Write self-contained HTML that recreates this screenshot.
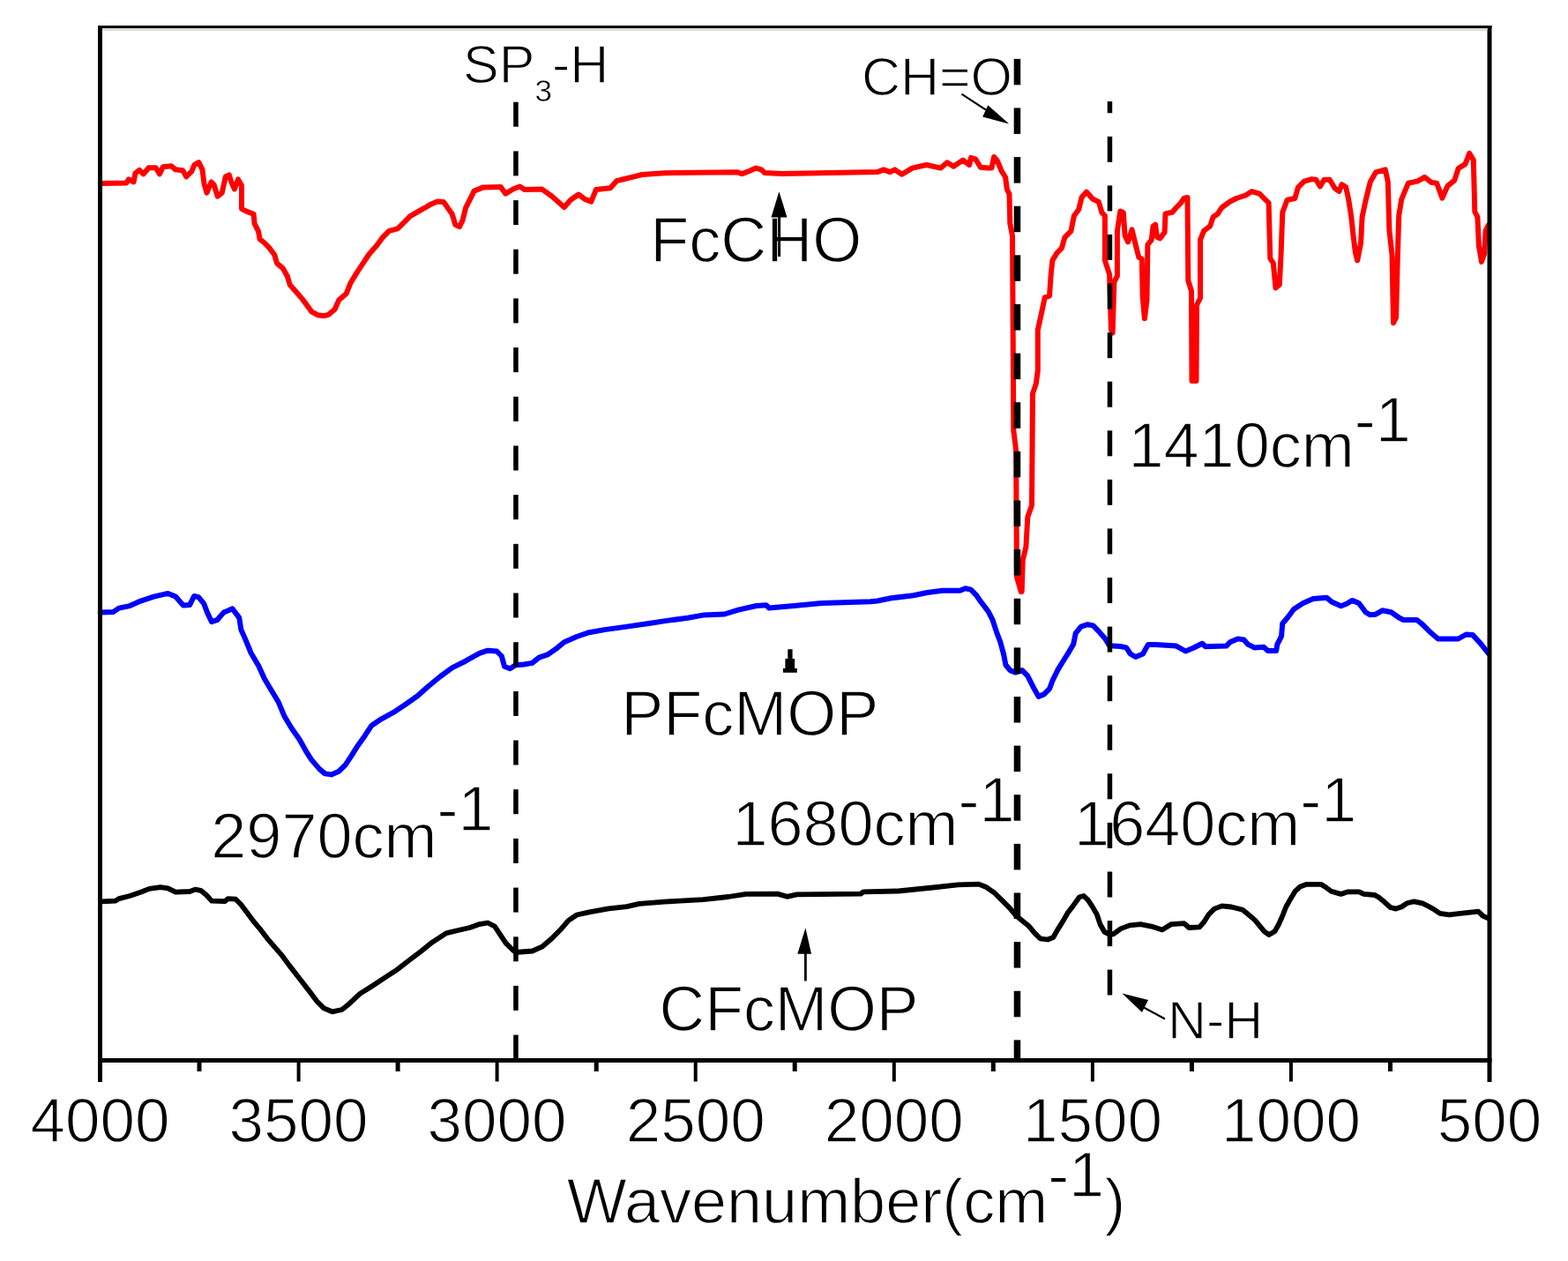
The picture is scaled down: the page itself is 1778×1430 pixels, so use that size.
<!DOCTYPE html>
<html><head><meta charset="utf-8"><title>FTIR spectra</title>
<style>html,body{margin:0;padding:0;background:#fff;overflow:hidden}svg{display:block}text{fill:#000;stroke:#fff;stroke-width:1.3px;paint-order:normal}</style>
</head><body>
<svg width="1778" height="1430" viewBox="0 0 1778 1430" font-family="'Liberation Sans', Arial, Helvetica, sans-serif">
<rect width="1778" height="1430" fill="#fff"/>
<!-- curves -->
<polyline points="113.8,208.0 143.4,207.5 145.9,203.4 151.5,206.4 153.5,196.3 158.1,192.8 162.6,197.3 168.7,190.2 176.8,190.2 180.9,197.3 184.9,189.2 194.0,188.2 199.1,192.3 207.2,193.3 211.2,200.4 217.3,194.3 220.3,187.2 225.4,184.2 229.5,192.3 231.5,208.5 234.5,218.6 239.6,206.4 242.6,209.5 246.7,222.6 251.7,218.6 255.8,200.4 259.8,198.3 261.9,205.4 265.9,214.5 270.0,203.4 274.0,210.5 274.0,236.8 280.0,239.9 287.6,242.7 288.6,253.5 293.0,262.3 294.5,271.1 299.4,275.0 305.2,280.9 311.1,288.7 314.0,298.5 320.9,304.4 325.8,313.2 328.7,323.0 335.6,330.8 342.4,338.6 348.3,346.4 353.2,353.3 360.0,357.2 367.8,358.2 372.4,356.9 379.5,351.0 384.3,340.3 392.6,333.1 397.3,321.3 404.5,309.4 411.6,298.7 418.7,288.0 427.1,278.5 434.2,268.9 441.3,261.8 450.8,259.4 458.0,252.3 465.1,245.2 473.4,240.4 481.7,235.7 487.7,232.1 496.0,228.5 503.1,229.1 508.5,236.9 512.7,242.8 516.2,254.7 521.0,257.1 524.5,249.9 528.1,235.7 532.9,226.2 537.6,216.6 548.0,212.4 567.8,212.0 573.2,219.6 582.2,214.2 589.4,211.5 594.8,215.1 614.6,214.6 625.4,222.3 639.8,234.9 647.0,226.8 656.0,220.5 663.2,225.9 670.4,228.6 675.8,215.1 692.0,213.3 699.2,205.2 710.0,202.5 720.8,199.8 728.0,198.0 753.2,196.2 836.0,195.3 841.4,197.1 848.6,194.4 857.1,190.6 863.4,192.4 867.0,196.0 886.8,196.9 994.8,195.1 1002.0,192.4 1009.2,195.1 1014.6,192.4 1022.7,197.8 1034.4,190.6 1050.6,187.0 1066.8,190.6 1074.0,184.3 1081.2,188.8 1092.0,181.6 1099.2,187.0 1101.0,178.9 1106.4,180.7 1111.8,189.7 1120.0,190.5 1124.4,190.6 1127.1,178.0 1130.7,182.0 1135.7,194.0 1140.1,201.0 1141.9,215.0 1144.5,220.2 1145.3,253.4 1148.0,267.4 1149.0,430.0 1149.3,488.0 1152.1,510.6 1153.0,654.1 1157.8,671.1 1158.7,671.0 1159.7,635.3 1163.4,620.2 1165.3,586.2 1170.0,573.0 1171.0,446.4 1174.8,435.1 1176.8,420.0 1176.8,374.0 1180.3,358.3 1184.7,337.3 1190.0,335.6 1191.7,311.1 1193.4,295.4 1198.7,286.6 1203.9,281.4 1207.4,269.2 1214.4,262.2 1217.9,244.7 1223.1,237.7 1226.6,223.7 1231.9,217.6 1238.9,225.5 1245.9,229.0 1249.4,241.2 1252.9,244.7 1252.9,295.4 1258.1,311.1 1259.9,374.0 1261.6,377.6 1263.4,319.9 1266.9,312.9 1266.9,262.2 1270.3,239.4 1273.8,241.2 1275.6,267.4 1279.1,274.4 1283.5,260.4 1287.0,274.4 1291.3,291.9 1294.8,293.6 1295.7,337.3 1297.9,361.3 1300.5,340.3 1301.4,277.4 1305.7,272.2 1307.5,256.4 1310.1,254.7 1311.9,268.7 1315.3,270.4 1320.6,263.4 1321.5,242.4 1329.3,240.7 1333.7,235.5 1339.0,230.2 1342.4,225.0 1346.5,224.0 1347.3,318.0 1351.0,330.0 1351.5,432.0 1356.5,432.0 1357.0,346.0 1361.0,338.0 1361.0,272.0 1365.2,261.7 1372.2,256.4 1375.7,245.9 1380.9,242.4 1385.3,235.5 1394.9,228.5 1401.9,225.0 1412.4,221.5 1419.4,217.1 1428.1,219.7 1433.4,225.0 1438.6,230.2 1440.3,293.1 1443.8,298.4 1446.5,326.4 1450.8,322.9 1452.6,287.9 1454.3,240.7 1459.6,226.7 1468.3,225.0 1471.8,212.7 1478.8,205.7 1487.6,203.1 1492.3,203.8 1496.9,211.5 1501.5,203.8 1507.7,203.8 1513.8,213.8 1518.5,216.9 1521.5,209.2 1526.2,212.3 1529.2,226.2 1532.3,246.2 1534.6,267.7 1536.9,286.2 1539.2,295.4 1543.1,275.4 1544.6,246.2 1548.5,227.7 1553.8,206.2 1560.0,195.4 1570.8,192.3 1573.8,206.2 1575.4,261.5 1578.5,289.2 1580.0,366.2 1583.1,360.0 1584.6,298.5 1586.2,244.6 1589.2,226.2 1596.9,207.7 1607.7,205.4 1615.4,200.8 1623.1,206.9 1629.2,207.7 1635.4,224.6 1641.5,210.8 1649.2,204.6 1653.8,190.8 1661.5,186.2 1666.2,173.8 1670.8,181.5 1672.3,240.0 1675.4,246.2 1676.9,278.5 1680.0,296.9 1683.1,287.7 1684.6,261.5 1687.7,255.4" fill="none" stroke="#ff0000" stroke-width="6" stroke-linejoin="round" stroke-linecap="round"/>
<polyline points="113.7,694.6 128.6,693.9 134.8,689.6 147.1,687.1 159.5,681.6 174.4,676.6 190.4,672.9 199.1,676.6 207.8,686.5 215.2,685.9 220.1,676.0 225.1,677.2 231.3,684.7 235.0,694.6 240.0,705.1 246.1,703.2 253.6,694.6 263.5,690.2 271.3,700.6 273.3,713.9 278.6,725.9 284.6,740.5 293.2,755.1 299.9,769.7 307.8,783.0 315.8,796.3 322.5,812.3 330.4,825.5 339.7,838.8 346.4,850.8 353.0,861.4 362.3,872.1 368.5,877.4 375.6,878.4 384.3,874.7 391.7,867.3 399.1,856.1 405.3,846.2 414.0,833.9 421.4,822.7 432.5,815.3 446.1,807.9 461.0,798.0 473.4,789.3 485.7,778.2 499.4,767.0 513.0,757.1 527.8,749.7 543.6,740.9 553.1,737.7 563.3,738.5 568.8,744.0 572.0,755.8 578.3,758.2 584.6,754.3 594.0,753.5 603.5,751.9 611.3,745.6 620.8,742.4 630.2,736.1 639.7,728.3 653.9,722.0 668.0,717.2 685.4,714.1 709.0,710.9 735.7,707.0 756.2,703.9 779.8,700.7 797.2,697.6 821.5,696.5 837.2,691.7 857.7,687.0 868.7,686.2 871.9,689.4 900.2,687.0 931.7,683.9 986.9,682.3 994.7,681.5 1010.5,678.3 1035.7,675.2 1051.4,672.0 1068.7,669.7 1088.5,669.8 1094.7,667.3 1100.8,668.6 1107.0,674.8 1112.0,682.2 1120.6,693.3 1125.6,703.2 1130.5,718.1 1134.3,728.0 1138.0,741.6 1140.4,754.0 1145.4,760.1 1151.6,762.6 1159.0,760.1 1165.2,766.3 1171.4,778.7 1177.6,789.9 1183.8,787.4 1190.0,781.2 1193.7,771.3 1199.9,758.9 1206.0,749.0 1212.2,739.1 1217.2,730.4 1219.7,718.1 1225.8,710.6 1233.3,708.2 1239.5,709.4 1245.6,715.6 1253.1,724.3 1258.0,732.3 1270.4,732.9 1277.1,734.4 1281.8,741.5 1287.7,745.0 1296.0,741.5 1301.9,730.9 1310.2,730.9 1333.8,732.6 1344.4,738.5 1352.7,735.0 1363.3,729.7 1366.8,733.2 1390.5,732.6 1395.2,727.9 1403.5,724.4 1410.5,725.5 1415.3,730.9 1422.4,734.4 1433.0,733.8 1437.7,738.0 1447.2,738.0 1448.3,730.9 1453.1,721.4 1454.2,707.2 1460.1,700.2 1467.2,690.7 1477.6,684.0 1489.0,679.0 1504.2,677.7 1510.5,682.8 1520.6,687.2 1527.0,684.7 1533.3,680.9 1540.9,684.0 1548.5,694.2 1553.5,697.3 1559.9,696.7 1567.4,692.3 1577.6,694.2 1586.4,700.5 1591.5,703.0 1606.7,703.0 1613.0,708.1 1621.9,717.0 1630.7,724.5 1653.5,724.5 1662.4,719.5 1670.0,720.1 1678.8,729.6 1687.7,741.0" fill="none" stroke="#0000ff" stroke-width="6" stroke-linejoin="round" stroke-linecap="round"/>
<polyline points="115.0,1022.4 131.0,1021.6 134.8,1019.1 147.1,1016.0 159.5,1011.7 169.4,1007.9 181.8,1006.1 190.4,1007.3 199.1,1011.7 215.2,1011.0 221.4,1008.6 227.6,1009.8 233.8,1014.8 240.0,1021.6 254.8,1022.2 258.5,1019.1 267.2,1019.7 273.4,1025.9 280.8,1035.8 288.2,1045.7 295.6,1054.4 303.1,1064.3 310.5,1072.9 319.2,1082.8 327.9,1094.6 338.9,1108.7 349.9,1122.9 359.4,1135.5 367.2,1143.4 376.7,1147.3 387.7,1145.0 395.6,1138.7 408.2,1126.9 420.8,1119.0 436.5,1108.7 450.7,1099.3 464.9,1088.3 477.5,1078.8 490.1,1068.6 505.8,1058.3 518.4,1055.2 532.6,1052.0 543.6,1048.1 553.1,1046.5 561.0,1050.5 567.2,1059.9 573.5,1069.4 581.4,1077.2 584.7,1080.0 603.6,1078.5 614.6,1073.7 625.7,1064.3 635.1,1054.8 644.6,1043.8 654.0,1037.5 668.2,1034.4 690.2,1030.4 710.7,1028.1 724.9,1024.9 753.2,1022.6 797.3,1020.2 825.7,1017.0 846.1,1013.9 881.5,1013.6 892.5,1016.8 903.5,1014.4 976.0,1013.6 979.1,1011.3 1018.5,1010.5 1057.9,1006.5 1086.2,1003.4 1109.8,1002.6 1117.7,1005.7 1127.4,1012.3 1136.1,1020.9 1144.8,1029.6 1152.2,1038.3 1159.6,1044.5 1167.0,1050.6 1173.2,1058.1 1179.4,1064.3 1188.1,1065.5 1194.3,1063.0 1199.2,1054.4 1205.4,1044.5 1210.3,1035.8 1217.8,1025.9 1224.0,1017.2 1228.9,1016.0 1233.9,1020.9 1238.8,1028.4 1243.8,1037.0 1247.5,1048.2 1252.4,1056.8 1257.4,1059.3 1262.3,1059.3 1271.0,1053.1 1280.9,1049.4 1293.3,1048.2 1305.6,1050.6 1318.0,1054.4 1327.9,1048.2 1342.8,1047.2 1348.2,1052.0 1359.9,1051.4 1365.3,1045.6 1370.6,1037.0 1377.0,1030.6 1385.6,1027.4 1396.3,1028.5 1409.1,1031.7 1415.5,1037.0 1423.0,1043.4 1428.3,1049.8 1433.7,1056.3 1439.0,1060.0 1445.4,1056.3 1449.7,1048.8 1454.0,1039.2 1458.2,1028.5 1463.6,1018.9 1468.9,1010.3 1474.3,1005.5 1481.7,1002.8 1497.8,1002.8 1503.1,1006.0 1509.5,1010.8 1520.4,1013.9 1528.7,1011.3 1541.2,1011.3 1546.4,1013.9 1558.9,1015.0 1564.1,1018.1 1570.3,1023.3 1576.6,1029.0 1582.8,1030.6 1589.1,1028.5 1595.3,1024.3 1603.6,1022.3 1613.0,1024.3 1619.3,1027.5 1626.5,1031.6 1632.8,1035.8 1643.2,1037.3 1655.7,1035.8 1676.5,1033.7 1681.7,1038.9 1686.9,1041.0" fill="none" stroke="#000" stroke-width="5.8" stroke-linejoin="round" stroke-linecap="round"/>
<!-- frame -->
<rect x="113.5" y="30.5" width="1575.5" height="172" fill="none" stroke="none"/>
<line x1="113.5" y1="29" x2="113.5" y2="1227" stroke="#000" stroke-width="5"/>
<line x1="1689" y1="29" x2="1689" y2="1227" stroke="#000" stroke-width="5"/>
<line x1="111" y1="30.5" x2="1691.5" y2="30.5" stroke="#000" stroke-width="3"/>
<line x1="116" y1="33.5" x2="1686.5" y2="33.5" stroke="#dcdcd4" stroke-width="3"/>
<line x1="111" y1="1202.5" x2="1691.5" y2="1202.5" stroke="#000" stroke-width="5"/>
<line x1="113.5" y1="1202" x2="113.5" y2="1226.5" stroke="#000" stroke-width="4"/>
<line x1="338.6" y1="1202" x2="338.6" y2="1226.5" stroke="#000" stroke-width="4"/>
<line x1="563.6" y1="1202" x2="563.6" y2="1226.5" stroke="#000" stroke-width="4"/>
<line x1="788.7" y1="1202" x2="788.7" y2="1226.5" stroke="#000" stroke-width="4"/>
<line x1="1013.8" y1="1202" x2="1013.8" y2="1226.5" stroke="#000" stroke-width="4"/>
<line x1="1238.9" y1="1202" x2="1238.9" y2="1226.5" stroke="#000" stroke-width="4"/>
<line x1="1463.9" y1="1202" x2="1463.9" y2="1226.5" stroke="#000" stroke-width="4"/>
<line x1="1689.0" y1="1202" x2="1689.0" y2="1226.5" stroke="#000" stroke-width="4"/>
<line x1="226.0" y1="1202" x2="226.0" y2="1215" stroke="#000" stroke-width="5"/>
<line x1="451.1" y1="1202" x2="451.1" y2="1215" stroke="#000" stroke-width="5"/>
<line x1="676.2" y1="1202" x2="676.2" y2="1215" stroke="#000" stroke-width="5"/>
<line x1="901.2" y1="1202" x2="901.2" y2="1215" stroke="#000" stroke-width="5"/>
<line x1="1126.3" y1="1202" x2="1126.3" y2="1215" stroke="#000" stroke-width="5"/>
<line x1="1351.4" y1="1202" x2="1351.4" y2="1215" stroke="#000" stroke-width="5"/>
<line x1="1576.5" y1="1202" x2="1576.5" y2="1215" stroke="#000" stroke-width="5"/>
<text x="113.5" y="1294.8" text-anchor="middle" font-size="71">4000</text>
<text x="338.6" y="1294.8" text-anchor="middle" font-size="71">3500</text>
<text x="563.6" y="1294.8" text-anchor="middle" font-size="71">3000</text>
<text x="788.7" y="1294.8" text-anchor="middle" font-size="71">2500</text>
<text x="1013.8" y="1294.8" text-anchor="middle" font-size="71">2000</text>
<text x="1238.9" y="1294.8" text-anchor="middle" font-size="71">1500</text>
<text x="1463.9" y="1294.8" text-anchor="middle" font-size="71">1000</text>
<text x="1689.0" y="1294.8" text-anchor="middle" font-size="71">500</text>
<!-- axis title -->
<text x="642.7" y="1386.5" font-size="72"><tspan>Wavenumber(cm</tspan><tspan dy="-29.5">-1</tspan><tspan dy="29.5">)</tspan></text>
<!-- annotations -->
<text x="525.1" y="94.4" font-size="61">SP<tspan font-size="35" dy="21" style="stroke-width:0.5px">3</tspan><tspan dy="-21">-H</tspan></text>
<text x="976.9" y="108" font-size="61">CH=O</text>
<text x="737.2" y="296.7" font-size="72">FcCHO</text>
<text x="704.3" y="833.7" font-size="72">PFcMOP</text>
<text x="747.6" y="1169" font-size="71.5">CFcMOP</text>
<text x="1279.5" y="529.5" font-size="72">1410cm<tspan dy="-28.8">-1</tspan></text>
<text x="239.3" y="972.6" font-size="72">2970cm<tspan dy="-30.2">-1</tspan></text>
<text x="830.4" y="959.1" font-size="72">1680cm<tspan dy="-27.3">-1</tspan></text>
<text x="1218.1" y="959.1" font-size="72">1640cm<tspan dy="-27.3">-1</tspan></text>
<text x="1324" y="1177.8" font-size="61">N-H</text>
<!-- dashed lines -->
<rect x="582.2" y="115.7" width="5.5" height="28.0" fill="#000"/>
<rect x="582.2" y="171.4" width="5.5" height="28.0" fill="#000"/>
<rect x="582.2" y="227.1" width="5.5" height="28.0" fill="#000"/>
<rect x="582.2" y="282.7" width="5.5" height="28.0" fill="#000"/>
<rect x="582.2" y="338.4" width="5.5" height="28.0" fill="#000"/>
<rect x="582.2" y="394.1" width="5.5" height="28.0" fill="#000"/>
<rect x="582.2" y="449.8" width="5.5" height="28.0" fill="#000"/>
<rect x="582.2" y="505.5" width="5.5" height="28.0" fill="#000"/>
<rect x="582.2" y="561.1" width="5.5" height="28.0" fill="#000"/>
<rect x="582.2" y="616.8" width="5.5" height="28.0" fill="#000"/>
<rect x="582.2" y="672.5" width="5.5" height="28.0" fill="#000"/>
<rect x="582.2" y="728.2" width="5.5" height="28.0" fill="#000"/>
<rect x="582.2" y="783.9" width="5.5" height="28.0" fill="#000"/>
<rect x="582.2" y="839.5" width="5.5" height="28.0" fill="#000"/>
<rect x="582.2" y="895.2" width="5.5" height="28.0" fill="#000"/>
<rect x="582.2" y="950.9" width="5.5" height="28.0" fill="#000"/>
<rect x="582.2" y="1006.6" width="5.5" height="28.0" fill="#000"/>
<rect x="582.2" y="1062.3" width="5.5" height="28.0" fill="#000"/>
<rect x="582.2" y="1117.9" width="5.5" height="28.0" fill="#000"/>
<rect x="582.2" y="1173.6" width="5.5" height="28.0" fill="#000"/>
<rect x="1149.7" y="66.8" width="7.5" height="29.5" fill="#000"/>
<rect x="1149.7" y="122.4" width="7.5" height="29.5" fill="#000"/>
<rect x="1149.7" y="178.1" width="7.5" height="29.5" fill="#000"/>
<rect x="1149.7" y="233.7" width="7.5" height="29.5" fill="#000"/>
<rect x="1149.7" y="289.3" width="7.5" height="29.5" fill="#000"/>
<rect x="1149.7" y="345.0" width="7.5" height="29.5" fill="#000"/>
<rect x="1149.7" y="400.6" width="7.5" height="29.5" fill="#000"/>
<rect x="1149.7" y="456.2" width="7.5" height="29.5" fill="#000"/>
<rect x="1149.7" y="511.8" width="7.5" height="29.5" fill="#000"/>
<rect x="1149.7" y="567.5" width="7.5" height="29.5" fill="#000"/>
<rect x="1149.7" y="623.1" width="7.5" height="29.5" fill="#000"/>
<rect x="1149.7" y="678.7" width="7.5" height="29.5" fill="#000"/>
<rect x="1149.7" y="734.4" width="7.5" height="29.5" fill="#000"/>
<rect x="1149.7" y="790.0" width="7.5" height="29.5" fill="#000"/>
<rect x="1149.7" y="845.6" width="7.5" height="29.5" fill="#000"/>
<rect x="1149.7" y="901.2" width="7.5" height="29.5" fill="#000"/>
<rect x="1149.7" y="956.9" width="7.5" height="29.5" fill="#000"/>
<rect x="1149.7" y="1012.5" width="7.5" height="29.5" fill="#000"/>
<rect x="1149.7" y="1068.1" width="7.5" height="29.5" fill="#000"/>
<rect x="1149.7" y="1123.8" width="7.5" height="29.5" fill="#000"/>
<rect x="1149.7" y="1179.4" width="7.5" height="22.6" fill="#000"/>
<rect x="1255.7" y="115.0" width="5.5" height="13.2" fill="#000"/>
<rect x="1255.7" y="154.8" width="5.5" height="29.0" fill="#000"/>
<rect x="1255.7" y="210.4" width="5.5" height="29.0" fill="#000"/>
<rect x="1255.7" y="265.9" width="5.5" height="29.0" fill="#000"/>
<rect x="1255.7" y="321.5" width="5.5" height="29.0" fill="#000"/>
<rect x="1255.7" y="377.1" width="5.5" height="29.0" fill="#000"/>
<rect x="1255.7" y="432.7" width="5.5" height="29.0" fill="#000"/>
<rect x="1255.7" y="488.3" width="5.5" height="29.0" fill="#000"/>
<rect x="1255.7" y="543.8" width="5.5" height="29.0" fill="#000"/>
<rect x="1255.7" y="599.4" width="5.5" height="29.0" fill="#000"/>
<rect x="1255.7" y="655.0" width="5.5" height="29.0" fill="#000"/>
<rect x="1255.7" y="710.6" width="5.5" height="29.0" fill="#000"/>
<rect x="1255.7" y="766.2" width="5.5" height="29.0" fill="#000"/>
<rect x="1255.7" y="821.7" width="5.5" height="29.0" fill="#000"/>
<rect x="1255.7" y="877.3" width="5.5" height="29.0" fill="#000"/>
<rect x="1255.7" y="932.9" width="5.5" height="29.0" fill="#000"/>
<rect x="1255.7" y="988.5" width="5.5" height="29.0" fill="#000"/>
<rect x="1255.7" y="1044.1" width="5.5" height="29.0" fill="#000"/>
<rect x="1255.7" y="1099.6" width="5.5" height="28.9" fill="#000"/>
<!-- arrows -->
<line x1="1090.4" y1="106.7" x2="1118" y2="124.6" stroke="#000" stroke-width="2.2"/>
<polygon points="1120.3,119.3 1114.2,132.6 1144.2,140.4" fill="#000"/>
<line x1="883.6" y1="244" x2="883.6" y2="291" stroke="#000" stroke-width="3"/>
<polygon points="883.4,217.3 874.5,246.5 892.5,246.5" fill="#000"/>
<polygon points="893.3,736.2 898.6,736.2 898.6,747 901.1,747 901.1,758 903.8,758 903.8,762.8 887.9,762.8 887.9,758 890.4,758 890.4,747 893.3,747" fill="#000"/>
<line x1="913.4" y1="1078" x2="913.4" y2="1112.5" stroke="#000" stroke-width="2.8"/>
<polygon points="913.4,1052.3 904.3,1081.7 920,1081.7" fill="#000"/>
<line x1="1296" y1="1142" x2="1321" y2="1155.5" stroke="#000" stroke-width="2.2"/>
<polygon points="1272.4,1126.5 1302,1134 1295,1148" fill="#000"/>
</svg>
</body></html>
